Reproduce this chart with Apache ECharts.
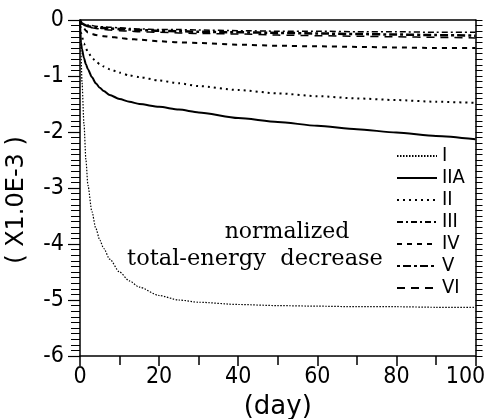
<!DOCTYPE html>
<html>
<head>
<meta charset="utf-8">
<script src="https://cdn.jsdelivr.net/npm/echarts@6/dist/echarts.min.js"></script>
<style>
html,body{margin:0;padding:0;background:#fff;}
#c{width:486px;height:419px;}
</style>
</head>
<body>
<div id="c"></div>
<script>
var days   = [0, 0.25, 0.5, 1, 1.5, 2, 3, 4, 5, 6, 7.5, 10, 12.5, 15, 20, 25, 30, 40, 50, 60, 70, 80, 90, 100];
var sI     = [0, -0.6, -1.1, -1.85, -2.5, -2.95, -3.42, -3.72, -3.93, -4.08, -4.27, -4.50, -4.66, -4.77, -4.92, -5.0, -5.04, -5.08, -5.10, -5.11, -5.12, -5.12, -5.13, -5.13];
var sIIA   = [0, -0.4, -0.52, -0.68, -0.79, -0.88, -1.02, -1.13, -1.21, -1.27, -1.34, -1.41, -1.46, -1.50, -1.55, -1.60, -1.65, -1.75, -1.82, -1.89, -1.95, -2.01, -2.07, -2.13];
var sII    = [0, -0.22, -0.3, -0.42, -0.51, -0.57, -0.67, -0.74, -0.79, -0.83, -0.88, -0.94, -0.99, -1.02, -1.08, -1.13, -1.18, -1.25, -1.31, -1.36, -1.40, -1.43, -1.46, -1.48];
var sIII   = [0, -0.03, -0.05, -0.07, -0.08, -0.09, -0.10, -0.11, -0.12, -0.12, -0.13, -0.14, -0.15, -0.16, -0.17, -0.17, -0.18, -0.19, -0.20, -0.20, -0.21, -0.21, -0.22, -0.22];
var sIV    = [0, -0.06, -0.10, -0.15, -0.19, -0.22, -0.25, -0.27, -0.28, -0.29, -0.30, -0.32, -0.34, -0.35, -0.38, -0.40, -0.41, -0.44, -0.46, -0.47, -0.48, -0.49, -0.50, -0.50];
var sV     = [0, -0.04, -0.06, -0.08, -0.10, -0.11, -0.12, -0.13, -0.14, -0.145, -0.15, -0.16, -0.17, -0.18, -0.19, -0.20, -0.21, -0.22, -0.23, -0.24, -0.25, -0.26, -0.27, -0.28];
var sVI    = [0, -0.05, -0.07, -0.09, -0.11, -0.12, -0.14, -0.15, -0.16, -0.17, -0.18, -0.19, -0.20, -0.21, -0.22, -0.23, -0.24, -0.25, -0.27, -0.28, -0.29, -0.30, -0.31, -0.32];
var names  = ['I', 'IIA', 'II', 'III', 'IV', 'V', 'VI'];
var values = [sI, sIIA, sII, sIII, sIV, sV, sVI];
var xTicks = [0, 20, 40, 60, 80, 100];
var yTicks = [0, -1, -2, -3, -4, -5, -6];

var styles = [
  {type: [1.5, 1.5], width: 1.2},
  {type: 'solid', width: 2},
  {type: [2, 4], width: 2},
  {type: [6, 3, 2, 3], width: 1.5},
  {type: [5, 5], width: 2},
  {type: [3, 3, 8, 3], width: 2.5},
  {type: [8, 6], width: 1.5}
];

var tickFont = "'Liberation Sans Narrow','DejaVu Sans Condensed','Liberation Sans',sans-serif";

var series = names.map(function (n, i) {
  return {
    name: n,
    type: 'line',
    xAxisIndex: 0,
    yAxisIndex: 0,
    symbol: 'none',
    showSymbol: false,
    smooth: 0.25,
    smoothMonotone: 'x',
    data: days.map(function (d, j) { return [d, values[i][j]]; }),
    lineStyle: {color: '#000', width: styles[i].width, type: styles[i].type},
    itemStyle: {color: '#000'}
  };
});

var chart = echarts.init(document.getElementById('c'), null, {renderer: 'canvas'});
chart.setOption({
  animation: false,
  backgroundColor: '#fff',
  grid: {left: 80, right: 10.5, top: 20, bottom: 63, outerBoundsMode: 'none', containLabel: false},
  legend: {
    orient: 'vertical',
    left: 391,
    top: 141,
    itemWidth: 40,
    itemHeight: 14,
    itemGap: 2,
    data: names,
    itemStyle: {color: 'rgba(0,0,0,0)', borderWidth: 0, opacity: 0},
    textStyle: {fontFamily: tickFont, fontSize: 20, color: '#000'},
    selectedMode: false
  },
  xAxis: [{
    type: 'value', min: 0, max: 100, interval: 20, position: 'bottom',
    axisLine: {onZero: false, lineStyle: {color: '#000', width: 1.5}},
    axisTick: {inside: false, length: 10, lineStyle: {color: '#000', width: 1.5}},
    minorTick: {show: true, splitNumber: 2, length: 9, lineStyle: {color: '#000', width: 1.5}},
    splitLine: {show: false},
    axisLabel: {fontFamily: tickFont, fontSize: 23, color: '#000', margin: 10,
      formatter: function (v) {
        if (v === 100) { return '{m|100}'; }
        return xTicks.indexOf(v) >= 0 ? String(v) : '';
      },
      rich: {m: {fontFamily: tickFont, fontSize: 23, color: '#000', padding: [0, 20, 0, 0]}}},
    name: '(day)', nameLocation: 'middle', nameGap: 34,
    nameTextStyle: {fontFamily: "'DejaVu Sans',sans-serif", fontSize: 26, color: '#000'}
  }, {
    type: 'value', min: 0, max: 100, position: 'top',
    axisLine: {onZero: false, lineStyle: {color: '#000', width: 1.5}},
    axisTick: {show: false}, axisLabel: {show: false}, splitLine: {show: false}
  }],
  yAxis: [{
    type: 'value', min: -6, max: 0, interval: 1, position: 'left',
    axisLine: {onZero: false, lineStyle: {color: '#000', width: 1.5}},
    axisTick: {inside: false, length: 12, lineStyle: {color: '#000', width: 1.2}},
    minorTick: {show: true, splitNumber: 10, length: 9, lineStyle: {color: '#000', width: 1}},
    splitLine: {show: false},
    axisLabel: {fontFamily: tickFont, fontSize: 23, color: '#000', margin: 16,
      formatter: function (v) { return yTicks.indexOf(v) >= 0 ? String(v) : ''; }}
  }, {
    type: 'value', min: -6, max: 0, interval: 1, position: 'right',
    axisLine: {show: true, onZero: false, lineStyle: {color: '#000', width: 1.5}},
    axisTick: {show: true, inside: false, length: 7, lineStyle: {color: '#000', width: 1}},
    minorTick: {show: true, splitNumber: 10, length: 7, lineStyle: {color: '#000', width: 1}},
    axisLabel: {show: false}, splitLine: {show: false}
  }],
  graphic: [
    {type: 'text', x: 17, y: 200, rotation: Math.PI / 2,
      style: {text: '( X1.0E-3 )', fontFamily: "'DejaVu Sans',sans-serif", fontSize: 24,
        fill: '#000', align: 'center', verticalAlign: 'middle'}},
    {type: 'text', x: 287, y: 232,
      style: {text: 'normalized', fontFamily: "'DejaVu Serif',serif", fontSize: 22,
        fill: '#000', align: 'center', verticalAlign: 'middle'}},
    {type: 'text', x: 255, y: 259,
      style: {text: 'total-energy  decrease', fontFamily: "'DejaVu Serif',serif", fontSize: 22.5,
        fill: '#000', align: 'center', verticalAlign: 'middle'}}
  ],
  series: series
});
</script>
</body>
</html>
